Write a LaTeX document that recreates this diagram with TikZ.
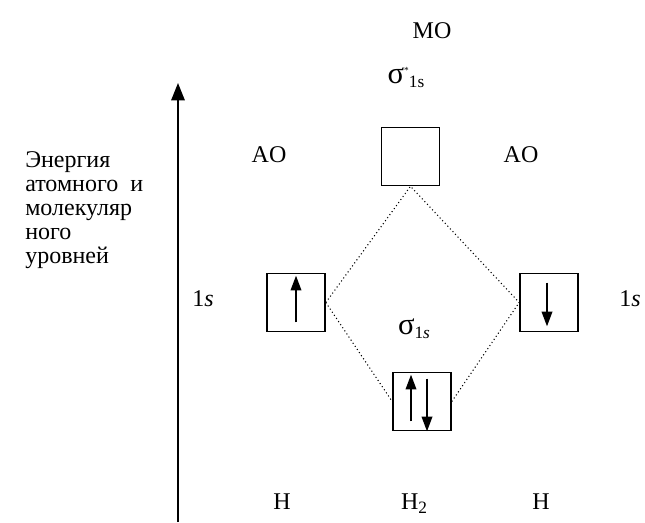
\documentclass[tikz,border=0pt]{standalone}
\usepackage{fontspec}
\setmainfont{Liberation Serif}
\usetikzlibrary{arrows.meta,calc}
\newcommand{\bigsigma}{{\fontsize{23}{23}\selectfont σ}}
\begin{document}
\begin{tikzpicture}[x=0.75pt,y=-0.75pt,
  lbl/.style={anchor=base,inner sep=0pt,font=\fontsize{18}{18}\selectfont},
  orb/.style={draw,line width=1.2pt,minimum width=43.5pt,minimum height=43.5pt,inner sep=0pt},
  spin/.style={line width=1.1pt,-{Triangle[width=8pt,length=11pt]}},
  corr/.style={dotted,line width=0.8pt},
  axis/.style={line width=1.5pt,-{Triangle[width=10pt,length=13pt]}}]
\useasboundingbox (0,0) rectangle (645,522);

% energy axis
\coordinate (ax0) at (178,522);
\coordinate (ax1) at (178,83);
\draw[axis] (ax0) -- (ax1);
\node[lbl,anchor=north west,align=left] (en) at (25,151)
  {Энергия\\атомного~ и\\молекуляр\\ного\\уровней};

% orbitals
\node[orb] (L) at (296,302.5) {};
\node[orb] (R) at (549,302.5) {};
\node[orb] (T) at (410.5,156.5) {};
\node[orb] (B) at (422,401.5) {};

% electrons
\draw[spin] ($(L.south)+(0,-10)$) -- ($(L.north)+(0,3)$);
\draw[spin] ($(R.north)+(-2,10)$) -- ($(R.south)+(-2,-6)$);
\draw[spin] ($(B.south)+(-11,-10)$) -- ($(B.north)+(-11,3)$);
\draw[spin] ($(B.north)+(5,7)$) -- ($(B.south)+(5,0)$);

% correlation lines
\draw[corr] (L.east) -- (T.south) -- (R.west);
\draw[corr] (L.east) -- (B.west);
\draw[corr] (B.east) -- (R.west);

% labels
\node[lbl] (mo) at (432,38) {MO};
\node[lbl] (ss) at (406,83) {\bigsigma\raisebox{7pt}{\fontsize{7}{7}\selectfont *}\raisebox{-3pt}{\fontsize{13}{13}\selectfont 1s}};
\node[lbl] (aol) at (269,162) {AO};
\node[lbl] (aor) at (521,162) {AO};
\node[lbl] (sl) at (203,306) {1\textit{s}};
\node[lbl] (sr) at (630,306) {1\textit{s}};
\node[lbl] (sb) at (414,334) {\bigsigma\raisebox{-3pt}{\fontsize{13}{13}\selectfont 1\textit{s}}};
\node[lbl] (hl) at (282,509) {H};
\node[lbl] (hm) at (414,509) {H\raisebox{-3pt}{\fontsize{13}{13}\selectfont 2}};
\node[lbl] (hr) at (541,509) {H};
\end{tikzpicture}
\end{document}
